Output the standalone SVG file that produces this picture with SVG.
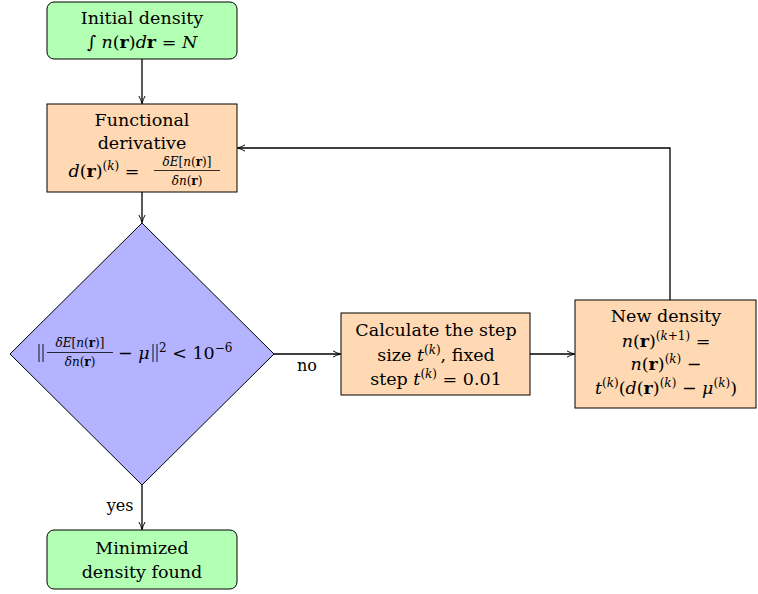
<svg xmlns="http://www.w3.org/2000/svg" width="758" height="594" viewBox="0 0 758 594" font-family="DejaVu Serif, serif">
<defs>
<marker id="arr" viewBox="0 0 10 10" refX="9" refY="5" markerWidth="8" markerHeight="8" orient="auto" markerUnits="userSpaceOnUse">
<path d="M0,1 Q5,4 10,5 Q5,6 0,9" fill="none" stroke="#000" stroke-width="1.2"/>
</marker>
</defs>
<style>
text{font-family:'DejaVu Serif',serif;font-size:17.5px;fill:#000;text-anchor:middle}
.i{font-style:italic}
.b{font-weight:bold}
.s{font-size:12px}
.green{fill:#b3ffb3;stroke:#000;stroke-width:1}
.orange{fill:#ffd9b3;stroke:#000;stroke-width:1}
.blue{fill:#b3b3ff;stroke:#000;stroke-width:1}
.edge{fill:none;stroke:#000;stroke-width:1.3;marker-end:url(#arr)}
.lbl{font-size:16px}
</style>
<rect width="758" height="594" fill="#fff"/>
<g id="edges">
<line class="edge" x1="142" y1="59" x2="142" y2="103"/>
<line class="edge" x1="142" y1="192" x2="142" y2="222"/>
<line class="edge" x1="274" y1="354" x2="340" y2="354"/>
<line class="edge" x1="530" y1="354" x2="574" y2="354"/>
<polyline class="edge" points="670,300 670,148 238,148"/>
<line class="edge" x1="142" y1="485" x2="142" y2="529"/>
<text class="lbl" x="307" y="371">no</text>
<text class="lbl" x="120" y="511">yes</text>
</g>
<g id="start">
<rect class="green" x="47" y="2" width="190" height="57" rx="7"/>
<text x="142" y="24">Initial density</text>
<text x="142" y="48">∫ <tspan class="i">n</tspan>(<tspan class="b">r</tspan>)<tspan class="i">d</tspan><tspan class="b">r</tspan> = <tspan class="i">N</tspan></text>
</g>
<g id="deriv">
<rect class="orange" x="47" y="104" width="190" height="88"/>
<text x="142" y="126">Functional</text>
<text x="142" y="149">derivative</text>
<text x="104" y="177"><tspan class="i">d</tspan>(<tspan class="b">r</tspan>)<tspan class="s" dy="-7">(<tspan class="i">k</tspan>)</tspan><tspan dy="7"> =</tspan></text>
<text class="s" x="187" y="166"><tspan class="i">δE</tspan>[<tspan class="i">n</tspan>(<tspan class="b">r</tspan>)]</text>
<line x1="154" y1="170.5" x2="220" y2="170.5" stroke="#000" stroke-width="0.8"/>
<text class="s" x="187" y="185"><tspan class="i">δn</tspan>(<tspan class="b">r</tspan>)</text>
</g>
<g id="check">
<polygon class="blue" points="142,223 274,354 142,485 10,354"/>
<line x1="39" y1="344" x2="39" y2="362" stroke="#000" stroke-width="0.9"/>
<line x1="43" y1="344" x2="43" y2="362" stroke="#000" stroke-width="0.9"/>
<text class="s" x="80" y="347"><tspan class="i">δE</tspan>[<tspan class="i">n</tspan>(<tspan class="b">r</tspan>)]</text>
<line x1="47" y1="352.5" x2="113" y2="352.5" stroke="#000" stroke-width="0.8"/>
<text class="s" x="80" y="366"><tspan class="i">δn</tspan>(<tspan class="b">r</tspan>)</text>
<text x="118" y="359" style="text-anchor:start">− <tspan class="i">μ</tspan></text>
<line x1="153" y1="344" x2="153" y2="362" stroke="#000" stroke-width="0.9"/>
<line x1="157" y1="344" x2="157" y2="362" stroke="#000" stroke-width="0.9"/>
<text x="159" y="359" style="text-anchor:start"><tspan class="s" dy="-7">2</tspan><tspan dy="7"> &lt; 10</tspan><tspan class="s" dy="-7">−6</tspan></text>
</g>
<g id="step">
<rect class="orange" x="341" y="313" width="189" height="82"/>
<text x="436" y="336">Calculate the step</text>
<text x="436" y="361">size <tspan class="i">t</tspan><tspan class="s" dy="-7">(<tspan class="i">k</tspan>)</tspan><tspan dy="7">, fixed</tspan></text>
<text x="436" y="385">step <tspan class="i">t</tspan><tspan class="s" dy="-7">(<tspan class="i">k</tspan>)</tspan><tspan dy="7"> = 0.01</tspan></text>
</g>
<g id="update">
<rect class="orange" x="575" y="300" width="181" height="108"/>
<text x="666" y="322">New density</text>
<text x="666" y="347"><tspan class="i">n</tspan>(<tspan class="b">r</tspan>)<tspan class="s" dy="-7">(<tspan class="i">k</tspan>+1)</tspan><tspan dy="7">  =</tspan></text>
<text x="666" y="370"><tspan class="i">n</tspan>(<tspan class="b">r</tspan>)<tspan class="s" dy="-7">(<tspan class="i">k</tspan>)</tspan><tspan dy="7"> −</tspan></text>
<text x="666" y="394"><tspan class="i">t</tspan><tspan class="s" dy="-7">(<tspan class="i">k</tspan>)</tspan><tspan dy="7">(<tspan class="i">d</tspan>(<tspan class="b">r</tspan>)</tspan><tspan class="s" dy="-7">(<tspan class="i">k</tspan>)</tspan><tspan dy="7"> − <tspan class="i">μ</tspan></tspan><tspan class="s" dy="-7">(<tspan class="i">k</tspan>)</tspan><tspan dy="7">)</tspan></text>
</g>
<g id="end">
<rect class="green" x="47" y="530" width="190" height="59" rx="7"/>
<text x="142" y="554">Minimized</text>
<text x="142" y="578">density found</text>
</g>
</svg>
